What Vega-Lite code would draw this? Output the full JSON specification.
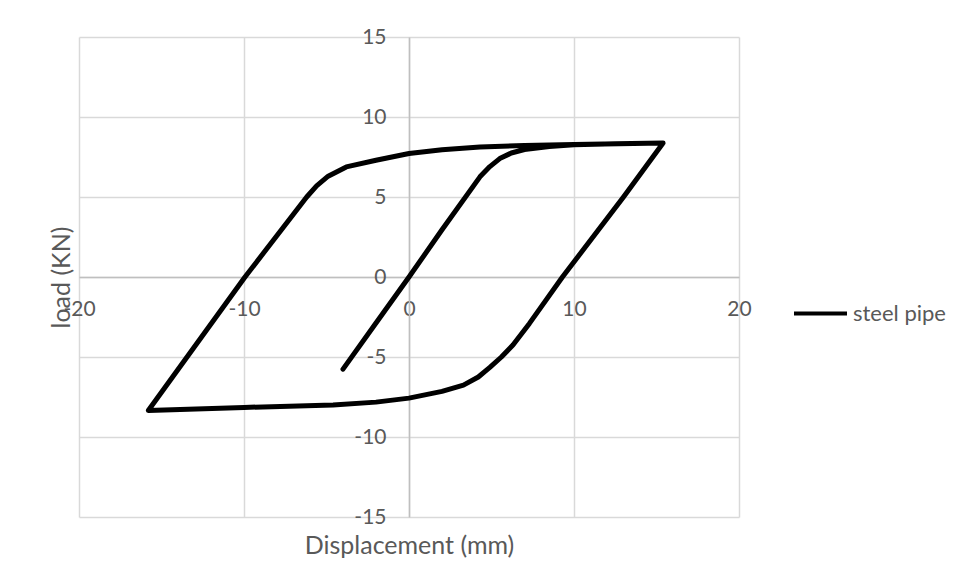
{
  "$schema": "https://vega.github.io/schema/vega-lite/v6.json",
  "width": 660,
  "height": 480,
  "autosize": {"type": "none"},
  "padding": {"left": 79, "top": 37, "right": 221, "bottom": 64},
  "background": "white",
  "config": {
    "view": {"stroke": null},
    "font": "Lato",
    "axis": {
      "labelFont": "Lato",
      "titleFont": "Lato",
      "labelColor": "#595959",
      "titleColor": "#595959",
      "labelFontSize": 21,
      "titleFontSize": 25,
      "titleFontWeight": "normal",
      "gridColor": "#d9d9d9",
      "gridWidth": 1.5,
      "domainColor": "#bfbfbf",
      "domainWidth": 1.5,
      "ticks": false,
      "tickSize": 0
    },
    "legend": {
      "labelFont": "Lato",
      "labelFontSize": 22,
      "labelColor": "#595959"
    }
  },
  "data": {
    "values": [
      {"i": 1, "d": -4.0, "p": -5.76},
      {"i": 2, "d": -2.0, "p": -2.88},
      {"i": 3, "d": 0.0, "p": 0.0},
      {"i": 4, "d": 2.0, "p": 2.95},
      {"i": 5, "d": 4.3, "p": 6.26},
      {"i": 6, "d": 4.9, "p": 6.9},
      {"i": 7, "d": 5.5, "p": 7.4},
      {"i": 8, "d": 6.2, "p": 7.75},
      {"i": 9, "d": 7.0, "p": 7.97},
      {"i": 10, "d": 8.5, "p": 8.15},
      {"i": 11, "d": 10.0, "p": 8.27},
      {"i": 12, "d": 12.5, "p": 8.33},
      {"i": 13, "d": 15.4, "p": 8.38},
      {"i": 14, "d": 13.0, "p": 5.0},
      {"i": 15, "d": 9.3, "p": 0.0},
      {"i": 16, "d": 7.3, "p": -2.9},
      {"i": 17, "d": 6.3, "p": -4.25},
      {"i": 18, "d": 5.6, "p": -5.0},
      {"i": 19, "d": 4.9, "p": -5.65},
      {"i": 20, "d": 4.2, "p": -6.25},
      {"i": 21, "d": 3.3, "p": -6.76},
      {"i": 22, "d": 2.0, "p": -7.15},
      {"i": 23, "d": 0.0, "p": -7.57},
      {"i": 24, "d": -2.0, "p": -7.82},
      {"i": 25, "d": -4.6, "p": -8.0},
      {"i": 26, "d": -10.0, "p": -8.15},
      {"i": 27, "d": -15.8, "p": -8.34},
      {"i": 28, "d": -9.94, "p": 0.0},
      {"i": 29, "d": -6.2, "p": 5.0},
      {"i": 30, "d": -5.6, "p": 5.7},
      {"i": 31, "d": -4.9, "p": 6.3},
      {"i": 32, "d": -3.8, "p": 6.88},
      {"i": 33, "d": -2.0, "p": 7.3},
      {"i": 34, "d": 0.0, "p": 7.72},
      {"i": 35, "d": 2.0, "p": 7.95},
      {"i": 36, "d": 4.3, "p": 8.12},
      {"i": 37, "d": 7.0, "p": 8.22},
      {"i": 38, "d": 10.0, "p": 8.28},
      {"i": 39, "d": 15.4, "p": 8.38}
    ]
  },
  "transform": [{"calculate": "'steel pipe'", "as": "series"}],
  "mark": {"type": "line", "strokeWidth": 5, "strokeJoin": "round", "strokeCap": "round"},
  "encoding": {
    "x": {
      "field": "d",
      "type": "quantitative",
      "scale": {"domain": [-20, 20], "nice": false, "zero": false},
      "axis": {
        "title": "Displacement (mm)",
        "values": [-20, -10, 0, 10, 20],
        "labelExpr": "'' + datum.value",
        "offset": -240,
        "labelPadding": 21,
        "labelBaseline": "top",
        "titleY": 268,
        "titleBaseline": "middle",
        "labelFlush": false
      }
    },
    "y": {
      "field": "p",
      "type": "quantitative",
      "scale": {"domain": [-15, 15], "nice": false, "zero": false},
      "axis": {
        "title": "load (KN)",
        "values": [-15, -10, -5, 0, 5, 10, 15],
        "labelExpr": "'' + datum.value",
        "offset": -330,
        "labelPadding": 23,
        "titleX": -348,
        "titleBaseline": "middle",
        "labelFlush": false
      }
    },
    "order": {"field": "i", "type": "quantitative"},
    "color": {
      "field": "series",
      "type": "nominal",
      "scale": {"domain": ["steel pipe"], "range": ["#000000"]},
      "legend": {
        "title": null,
        "orient": "none",
        "legendX": 713,
        "legendY": 248,
        "symbolType": "stroke",
        "symbolSize": 2809,
        "symbolStrokeWidth": 4,
        "labelOffset": 4
      }
    }
  }
}
